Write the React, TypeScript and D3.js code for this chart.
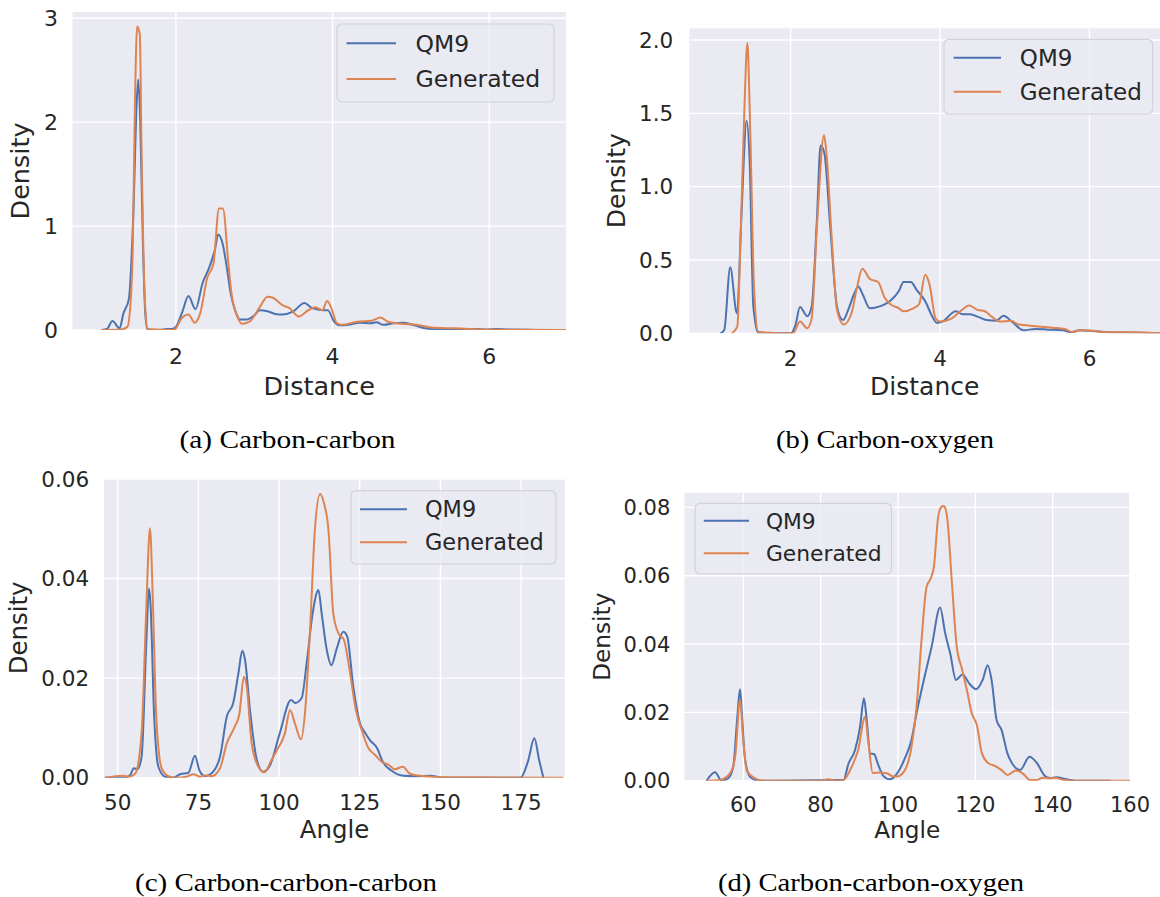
import React from 'react';
import * as d3 from 'd3';

// ---- data (x, density) ----
const series = ['QM9', 'Generated'];
const colors = ['#4c72b0', '#dd8452'];

// (a) carbon-carbon distance
const ccX_qm9 = [1.05, 1.12, 1.19, 1.28, 1.33, 1.40, 1.46, 1.50, 1.52, 1.545, 1.58, 1.61, 1.64, 1.80, 1.88, 1.95, 2.00, 2.08, 2.16, 2.25, 2.34, 2.43, 2.50, 2.54, 2.60, 2.65, 2.70, 2.76, 2.82, 2.90, 3.00, 3.07, 3.17, 3.27, 3.36, 3.50, 3.64, 3.74, 3.88, 3.94, 4.02, 4.09, 4.20, 4.35, 4.49, 4.56, 4.65, 4.78, 4.90, 5.02, 5.16, 5.30, 5.50, 5.70, 5.85, 5.95, 6.10, 6.25, 6.50, 6.60];
const ccY_qm9 = [0, 0.01, 0.087, 0.016, 0.16, 0.30, 1.2, 2.2, 2.41, 2.0, 0.8, 0.15, 0, 0, 0.01, 0.01, 0.03, 0.17, 0.327, 0.2, 0.45, 0.61, 0.78, 0.92, 0.82, 0.6, 0.35, 0.18, 0.10, 0.10, 0.14, 0.19, 0.18, 0.155, 0.15, 0.18, 0.26, 0.21, 0.19, 0.19, 0.08, 0.045, 0.05, 0.07, 0.065, 0.075, 0.05, 0.065, 0.07, 0.05, 0.02, 0.01, 0.008, 0.006, 0.01, 0.004, 0.01, 0.004, 0.003, 0];
const ccX_gen = [1.05, 1.30, 1.38, 1.42, 1.45, 1.48, 1.506, 1.54, 1.56, 1.58, 1.61, 1.64, 1.97, 2.00, 2.07, 2.16, 2.24, 2.31, 2.40, 2.48, 2.55, 2.60, 2.67, 2.71, 2.78, 2.84, 2.94, 3.07, 3.17, 3.24, 3.36, 3.45, 3.57, 3.69, 3.78, 3.87, 3.93, 4.00, 4.05, 4.12, 4.31, 4.50, 4.61, 4.71, 4.88, 5.07, 5.26, 5.45, 5.64, 5.90, 6.30, 7.00];
const ccY_gen = [0, 0.005, 0.03, 0.25, 0.8, 2.3, 2.92, 2.84, 1.8, 0.93, 0.2, 0.01, 0, 0.015, 0.11, 0.15, 0.07, 0.16, 0.5, 0.64, 1.17, 1.17, 0.64, 0.35, 0.14, 0.06, 0.08, 0.22, 0.32, 0.31, 0.24, 0.21, 0.13, 0.19, 0.22, 0.19, 0.28, 0.18, 0.07, 0.05, 0.08, 0.09, 0.12, 0.08, 0.06, 0.05, 0.025, 0.018, 0.015, 0.005, 0.002, 0];

// (b) carbon-oxygen distance
const coX_qm9 = [1.06, 1.11, 1.19, 1.28, 1.34, 1.41, 1.45, 1.50, 1.57, 2.00, 2.06, 2.125, 2.22, 2.28, 2.35, 2.40, 2.45, 2.53, 2.62, 2.70, 2.77, 2.85, 2.905, 2.96, 3.06, 3.17, 3.33, 3.45, 3.51, 3.61, 3.68, 3.81, 3.88, 3.96, 4.03, 4.21, 4.30, 4.40, 4.52, 4.62, 4.75, 4.85, 4.97, 5.12, 5.27, 5.45, 5.65, 5.75, 5.87, 6.05, 6.25, 6.55, 6.94];
const coY_qm9 = [0, 0.022, 0.45, 0.136, 0.8, 1.45, 1.18, 0.18, 0, 0, 0.05, 0.18, 0.117, 0.18, 0.77, 1.28, 1.23, 0.72, 0.18, 0.09, 0.16, 0.27, 0.32, 0.27, 0.17, 0.18, 0.22, 0.29, 0.35, 0.35, 0.30, 0.21, 0.13, 0.07, 0.08, 0.15, 0.13, 0.13, 0.11, 0.09, 0.085, 0.12, 0.075, 0.02, 0.03, 0.025, 0.02, 0.008, 0.02, 0.015, 0.007, 0.005, 0];
const coX_gen = [1.21, 1.285, 1.32, 1.375, 1.42, 1.455, 1.51, 1.566, 2.03, 2.125, 2.22, 2.28, 2.356, 2.446, 2.48, 2.55, 2.62, 2.71, 2.816, 2.89, 2.96, 3.06, 3.17, 3.26, 3.33, 3.45, 3.51, 3.64, 3.72, 3.80, 3.86, 3.94, 4.00, 4.15, 4.27, 4.39, 4.50, 4.60, 4.70, 4.80, 4.95, 5.05, 5.15, 5.35, 5.50, 5.67, 5.77, 5.87, 6.05, 6.20, 6.40, 6.70, 6.94];
const coY_gen = [0, 0.045, 0.5, 1.45, 1.98, 1.45, 0.3, 0.01, 0, 0.08, 0.035, 0.1, 0.77, 1.35, 1.22, 0.64, 0.16, 0.06, 0.14, 0.32, 0.44, 0.37, 0.35, 0.24, 0.2, 0.17, 0.15, 0.17, 0.2, 0.40, 0.33, 0.10, 0.08, 0.1, 0.15, 0.19, 0.16, 0.15, 0.11, 0.08, 0.085, 0.06, 0.055, 0.045, 0.038, 0.03, 0.008, 0.02, 0.017, 0.007, 0.007, 0.006, 0];

// (c) carbon-carbon-carbon angle
const cccX_qm9 = [46, 51.7, 53.8, 55.0, 56.1, 57.4, 58.8, 59.7, 60.2, 61.25, 62.6, 64.7, 67.2, 69.3, 71.9, 73.95, 75.3, 77.05, 79.1, 81.7, 83.8, 85.8, 87.4, 88.6, 89.45, 91.0, 93.1, 95.1, 97.2, 100.2, 103.7, 105.0, 107.0, 108.6, 110.4, 112.2, 113.2, 114.8, 116.2, 117.9, 119.9, 121.1, 123.0, 125.1, 126.6, 128.2, 130.3, 132.3, 134.9, 138.5, 142.7, 146.8, 151, 171, 174.8, 177.1, 179.1, 180.6, 181.9];
const cccY_qm9 = [0, 0, 0.0005, 0.0019, 0.0017, 0.0042, 0.026, 0.038, 0.0344, 0.013, 0.0022, 0.0002, 0, 0.0007, 0.001, 0.0044, 0.0015, 0.0003, 0.0009, 0.0042, 0.0123, 0.015, 0.021, 0.0255, 0.0237, 0.0135, 0.0036, 0.0012, 0.0025, 0.0089, 0.0156, 0.015, 0.016, 0.0233, 0.033, 0.0377, 0.033, 0.0256, 0.0226, 0.026, 0.0293, 0.0284, 0.0183, 0.0109, 0.0091, 0.0075, 0.006, 0.003, 0.0014, 0.0004, 0.0003, 0.0004, 0, 0, 0, 0.0032, 0.0079, 0.0035, 0];
const cccX_gen = [46, 51.7, 53.3, 55.4, 57.4, 58.8, 60.0, 60.85, 61.9, 63.6, 65.7, 68, 71.4, 73.4, 75.5, 77.6, 79.1, 81.7, 83.8, 86.3, 87.7, 89.1, 89.97, 91.5, 93.6, 95.4, 97.7, 99.3, 101.8, 103.4, 104.9, 106.8, 108.0, 109.6, 111.1, 112.7, 113.9, 115.3, 116.8, 118.4, 120.1, 122.0, 123.8, 125.6, 127.7, 129.7, 131.8, 133.9, 135.9, 138.3, 140.6, 143.7, 146.8, 153, 188];
const cccY_gen = [0, 0.0004, 0.0002, 0.0008, 0.009, 0.033, 0.0501, 0.0364, 0.013, 0.0019, 0.0003, 0, 0.0002, 0.0007, 0.0002, 0.0005, 0.0003, 0.0019, 0.0069, 0.0103, 0.0128, 0.0203, 0.0183, 0.0069, 0.0022, 0.0011, 0.0036, 0.0055, 0.0089, 0.0136, 0.0109, 0.0077, 0.0128, 0.0297, 0.0498, 0.057, 0.0552, 0.0498, 0.033, 0.029, 0.0277, 0.021, 0.0136, 0.0096, 0.0059, 0.0046, 0.0032, 0.0026, 0.0017, 0.0022, 0.0008, 0.0004, 0.0002, 0.0001, 0];

// (d) carbon-carbon-oxygen angle
const ccoX_qm9 = [50.5, 52.7, 54.4, 56.1, 57.4, 58.4, 59.15, 59.6, 60.4, 61.7, 63.9, 85.9, 87.2, 88.9, 90.2, 91.2, 91.9, 92.8, 93.8, 94.9, 96.2, 97.9, 99.7, 101.8, 103.5, 104.8, 107.0, 108.7, 110.9, 112.2, 113.5, 115.0, 116.7, 118.4, 120.2, 121.9, 123.2, 124.2, 125.5, 126.8, 128.3, 129.8, 131.6, 134.0, 135.9, 138.0, 139.3, 141.0, 143.6, 146.2, 155];
const ccoY_qm9 = [0, 0.0025, 0, 0.0007, 0.004, 0.0178, 0.0268, 0.0205, 0.0068, 0.0012, 0, 0.0002, 0.005, 0.009, 0.0158, 0.0241, 0.018, 0.008, 0.0078, 0.0046, 0.0014, 0.0004, 0.002, 0.0066, 0.012, 0.0197, 0.031, 0.0392, 0.0507, 0.0432, 0.0373, 0.0295, 0.0311, 0.0285, 0.0268, 0.0295, 0.0338, 0.0295, 0.0178, 0.0148, 0.008, 0.0046, 0.0031, 0.007, 0.0052, 0.0014, 0.0008, 0.001, 0.0004, 0, 0];
const ccoX_gen = [50.5, 54, 56.6, 57.9, 59.15, 60, 60.9, 63, 65.2, 80, 82, 84, 85.9, 88, 89.7, 91.5, 92.3, 93.5, 94.9, 97.1, 98.8, 99.7, 101.8, 103.5, 104.8, 106.1, 107.4, 108.5, 109.3, 110.4, 111.2, 111.7, 112.1, 112.8, 113.9, 115.2, 116.5, 117.8, 119.1, 120.4, 121.7, 123.4, 125.1, 126.8, 128.3, 130.5, 132.4, 134.1, 135.9, 137.4, 139.3, 140.6, 142.8, 146, 160];
const ccoY_gen = [0, 0.0002, 0.0022, 0.007, 0.0236, 0.0117, 0.003, 0.0007, 0, 0, 0.0004, 0, 0.0002, 0.004, 0.009, 0.0187, 0.0117, 0.0022, 0.0024, 0.0022, 0.0012, 0.0012, 0.0031, 0.01, 0.0216, 0.0412, 0.0568, 0.0593, 0.0627, 0.0773, 0.0801, 0.0804, 0.0801, 0.0763, 0.0588, 0.0392, 0.0329, 0.0266, 0.0197, 0.0163, 0.008, 0.0051, 0.0043, 0.0031, 0.0017, 0.003, 0.002, 0.0002, 0.0002, 0.0009, 0.0007, 0.0009, 0.0002, 0, 0];

// tick labels
const distXTicks = [2, 4, 6];
const ccYTicks = [0, 1, 2, 3];
const coYTicks = [0, 0.5, 1.0, 1.5, 2.0];
const cccXTicks = [50, 75, 100, 125, 150, 175];
const cccYTicks = [0, 0.02, 0.04, 0.06];
const ccoXTicks = [60, 80, 100, 120, 140, 160];
const ccoYTicks = [0, 0.02, 0.04, 0.06, 0.08];

const captions = ['(a) Carbon-carbon', '(b) Carbon-oxygen', '(c) Carbon-carbon-carbon', '(d) Carbon-carbon-oxygen'];

const zip = (xs, ys) => xs.map((x, i) => [x, ys[i]]);

// layout per panel (pixel boxes measured on the reference)
const panels = [
  {
    box: [72.5, 566, 12, 330], xDom: [0.68, 6.98], yDom: [0, 3.06],
    xTicks: distXTicks, yTicks: ccYTicks, yFmt: d3.format('d'), xLabel: 'Distance',
    lines: [zip(ccX_qm9, ccY_qm9), zip(ccX_gen, ccY_gen)],
    fs: 22, lfs: 25.5, legFs: 23.5,
    yTickX: 58, xTickY: 364, xLabelY: 395, yLabelX: 22,
    legend: { x0: 337, x1: 554, y0: 24, y1: 102, lx0: 346.5, lx1: 396, tx: 415.5, rows: [43.3, 79] },
    caption: { x: 287.5, y: 448, w: 216 },
  },
  {
    box: [689.5, 1160, 28.3, 333.3], xDom: [0.645, 6.944], yDom: [0, 2.08],
    xTicks: distXTicks, yTicks: coYTicks, yFmt: d3.format('.1f'), xLabel: 'Distance',
    lines: [zip(coX_qm9, coY_qm9), zip(coX_gen, coY_gen)],
    fs: 21.5, lfs: 25, legFs: 23,
    yTickX: 673.3, xTickY: 366, xLabelY: 395, yLabelX: 618.3,
    legend: { x0: 944, x1: 1152.5, y0: 39.3, y1: 114, lx0: 953.6, lx1: 1001, tx: 1019.8, rows: [57.7, 91.7] },
    caption: { x: 885, y: 448, w: 218 },
  },
  {
    box: [104, 565, 478, 777.7], xDom: [45.75, 188.6], yDom: [0, 0.0602],
    xTicks: cccXTicks, yTicks: cccYTicks, yFmt: d3.format('.2f'), xLabel: 'Angle',
    lines: [zip(cccX_qm9, cccY_qm9), zip(cccX_gen, cccY_gen)],
    fs: 21.5, lfs: 24.4, legFs: 22.4,
    yTickX: 89.2, xTickY: 809.5, xLabelY: 838, yLabelX: 20,
    legend: { x0: 351, x1: 556, y0: 490.7, y1: 564, lx0: 360, lx1: 407, tx: 425, rows: [509.3, 542.3] },
    caption: { x: 286, y: 891, w: 302 },
  },
  {
    box: [684.5, 1130, 492.7, 780.7], xDom: [44.8, 160], yDom: [0, 0.0843],
    xTicks: ccoXTicks, yTicks: ccoYTicks, yFmt: d3.format('.2f'), xLabel: 'Angle',
    lines: [zip(ccoX_qm9, ccoY_qm9), zip(ccoX_gen, ccoY_gen)],
    fs: 21, lfs: 23.2, legFs: 21.8,
    yTickX: 670.3, xTickY: 811.5, xLabelY: 838, yLabelX: 604,
    legend: { x0: 695.2, x1: 891.5, y0: 503.3, y1: 574, lx0: 703.8, lx1: 749, tx: 765.9, rows: [520.7, 553.3] },
    caption: { x: 871, y: 891, w: 306 },
  },
];

const FONT = '"DejaVu Sans", sans-serif';
const TEXT = '#262626';

function Panel({ p, idx }) {
  const [l, r, t, b] = p.box;
  const x = d3.scaleLinear().domain(p.xDom).range([l, r]);
  const y = d3.scaleLinear().domain(p.yDom).range([b, t]);
  const line = d3.line().x(d => x(d[0])).y(d => y(d[1])).curve(d3.curveMonotoneX);
  const clipId = `clip-${idx}`;
  const lg = p.legend;
  return (
    <g>
      <defs>
        <clipPath id={clipId}>
          <rect x={l} y={t} width={r - l} height={b - t} />
        </clipPath>
      </defs>
      <rect x={l} y={t} width={r - l} height={b - t} fill="#eaeaf2" />
      {p.xTicks.map(v => (
        <line key={'gx' + v} x1={x(v)} x2={x(v)} y1={t} y2={b} stroke="#fff" strokeWidth={1.4} />
      ))}
      {p.yTicks.map(v => (
        <line key={'gy' + v} x1={l} x2={r} y1={y(v)} y2={y(v)} stroke="#fff" strokeWidth={1.4} />
      ))}
      <g clipPath={`url(#${clipId})`}>
        {p.lines.map((pts, i) => (
          <path key={i} d={line(pts)} fill="none" stroke={colors[i]} strokeWidth={2} strokeLinejoin="round" />
        ))}
      </g>
      {p.xTicks.map(v => (
        <text key={'tx' + v} x={x(v)} y={p.xTickY} textAnchor="middle" fontSize={p.fs} fontFamily={FONT} fill={TEXT}>{v}</text>
      ))}
      {p.yTicks.map(v => (
        <text key={'ty' + v} x={p.yTickX} y={y(v)} dy="0.36em" textAnchor="end" fontSize={p.fs} fontFamily={FONT} fill={TEXT}>{p.yFmt(v)}</text>
      ))}
      <text x={(l + r) / 2} y={p.xLabelY} textAnchor="middle" fontSize={p.lfs} fontFamily={FONT} fill={TEXT}>{p.xLabel}</text>
      <text transform={`translate(${p.yLabelX + 0.27 * p.lfs},${(t + b) / 2}) rotate(-90)`} textAnchor="middle" fontSize={p.lfs} fontFamily={FONT} fill={TEXT}>Density</text>
      <rect x={lg.x0} y={lg.y0} width={lg.x1 - lg.x0} height={lg.y1 - lg.y0} rx={5} fill="#eaeaf2" fillOpacity={0.8} stroke="#d2d2d8" strokeWidth={1.2} />
      {series.map((s, i) => (
        <g key={s}>
          <line x1={lg.lx0} x2={lg.lx1} y1={lg.rows[i]} y2={lg.rows[i]} stroke={colors[i]} strokeWidth={2} />
          <text x={lg.tx} y={lg.rows[i]} dy="0.36em" fontSize={p.legFs} fontFamily={FONT} fill={TEXT}>{s}</text>
        </g>
      ))}
      <text x={p.caption.x} y={p.caption.y} textAnchor="middle" fontSize={26} fontFamily='"Liberation Serif", "DejaVu Serif", serif' fill="#000" textLength={p.caption.w} lengthAdjust="spacingAndGlyphs">{captions[idx]}</text>
    </g>
  );
}

export default function App() {
  return (
    <div style={{ position: 'absolute', left: 0, top: 0 }}>
      <svg width={1160} height={897} style={{ display: 'block', background: '#fff' }}>
        {panels.map((p, i) => <Panel key={i} p={p} idx={i} />)}
      </svg>
    </div>
  );
}
